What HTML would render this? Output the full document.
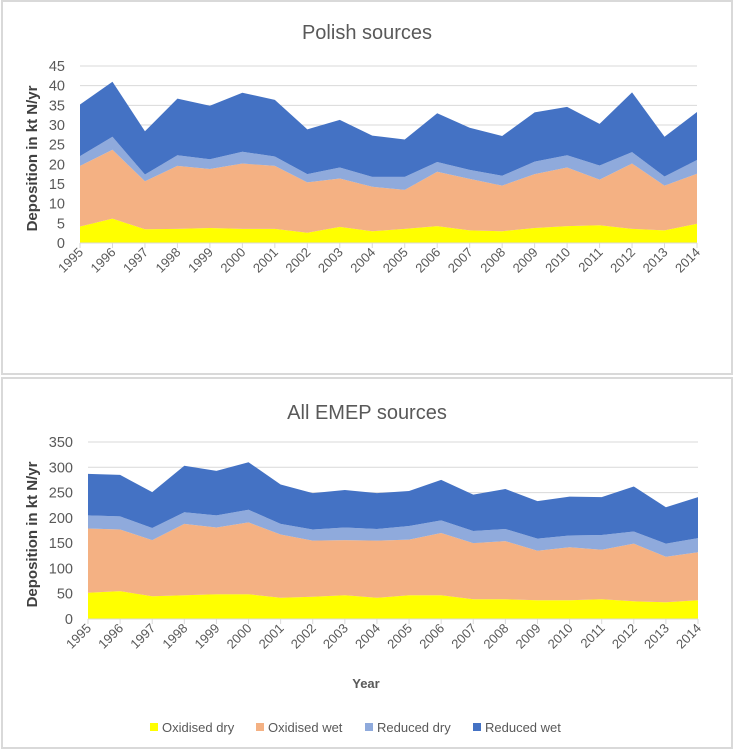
<!DOCTYPE html>
<html><head><meta charset="utf-8"><style>
body{margin:0;background:#fff;font-family:"Liberation Sans",sans-serif}
svg{display:block}
</style></head><body>
<svg id="s" width="734" height="755" xmlns="http://www.w3.org/2000/svg">
<rect x="2" y="1" width="730" height="373" fill="#fff" stroke="#d9d9d9" stroke-width="2"/>
<rect x="2" y="378" width="730" height="370" fill="#fff" stroke="#d9d9d9" stroke-width="2"/>
<text x="367" y="39" font-size="20" fill="#595959" text-anchor="middle">Polish sources</text>
<text x="367" y="419" font-size="20" fill="#595959" text-anchor="middle">All EMEP sources</text>
<text x="366" y="688" font-size="13" font-weight="bold" fill="#595959" text-anchor="middle">Year</text>
<g id="legend"></g>
</svg>
<script>
const years=[1995,1996,1997,1998,1999,2000,2001,2002,2003,2004,2005,2006,2007,2008,2009,2010,2011,2012,2013,2014];
const seriesNames=["Oxidised dry","Oxidised wet","Reduced dry","Reduced wet"];
// Polish sources (individual series values, kt N/yr)
const plOxDry=[4.2,6.2,3.5,3.6,3.8,3.6,3.6,2.6,4.1,3.0,3.6,4.3,3.2,3.0,3.8,4.3,4.5,3.6,3.2,4.9];
const plOxWet=[15.4,17.5,12.2,16.0,15.0,16.6,16.0,12.8,12.3,11.3,9.9,13.8,13.1,11.6,13.7,14.9,11.6,16.6,11.4,12.7];
const plRedDry=[2.5,3.3,1.7,2.7,2.5,3.0,2.4,2.1,2.8,2.5,3.3,2.5,2.3,2.5,3.2,3.1,3.6,2.9,2.3,3.5];
const plRedWet=[13.1,14.0,11.0,14.4,13.6,15.0,14.4,11.4,12.1,10.5,9.5,12.4,10.7,10.1,12.5,12.3,10.6,15.2,10.1,12.2];
const plTicks=[0,5,10,15,20,25,30,35,40,45];
// All EMEP sources
const emOxDry=[52,55,45,47,49,49,42,44,47,42,47,47,39,39,37,37,39,35,33,37];
const emOxWet=[127,122,111,141,132,142,125,111,109,113,110,123,111,115,98,105,98,114,90,95];
const emRedDry=[26,26,24,23,24,25,21,22,25,23,27,25,24,24,24,23,29,24,26,28];
const emRedWet=[82,82,71,92,88,94,78,72,74,71,69,80,72,79,74,77,75,89,72,81];
const emTicks=[0,50,100,150,200,250,300,350];
const colors=["#FFFF00","#F4B183","#8FAADC","#4472C4"];
const NS="http://www.w3.org/2000/svg";
const svg=document.getElementById('s');
function mk(tag,attrs,parent){const e=document.createElementNS(NS,tag);for(const k in attrs)e.setAttribute(k,attrs[k]);(parent||svg).appendChild(e);return e;}
function chart(series,ticks,x0,x1,y0,yTop,maxV,prefix){
  const g=mk('g',{});
  
  
  const xs=i=>x0+(x1-x0)*i/(years.length-1);
  const ys=v=>y0-(y0-yTop)*v/maxV;
  ticks.forEach(t=>{
    if(t>0){const l=mk('line',{x1:x0,x2:x1,y1:ys(t),y2:ys(t),stroke:'#d9d9d9','stroke-width':1},g);
    
    }
    const tx=mk('text',{x:x0-15,y:ys(t)+5,'font-size':14.5,fill:'#595959','text-anchor':'end'},g);
    tx.textContent=t;
    
    
  });
  let base=years.map(()=>0);
  series.forEach((s,k)=>{
    const top=base.map((b,i)=>b+s[i]);
    let d='M'+years.map((y,i)=>xs(i)+','+ys(top[i])).join('L');
    for(let i=years.length-1;i>=0;i--)d+='L'+xs(i)+','+ys(base[i]);
    const p=mk('path',{d:d+'Z',fill:colors[k]},g);
    
    
    base=top;
  });
  mk('line',{x1:x0,x2:x1,y1:y0,y2:y0,stroke:'#d9d9d9'},g);
  years.forEach((y,i)=>{
    mk('line',{x1:xs(i),x2:xs(i),y1:y0,y2:y0+5,stroke:'#d9d9d9'},g);
    const ax=xs(i)+4, ay=y0+10;
    const tx=mk('text',{x:ax,y:ay,'font-size':13,fill:'#595959','text-anchor':'end',transform:'rotate(-45 '+ax+' '+ay+')'},g);
    tx.textContent=y;
    
    
  });
  const cy=(y0+yTop)/2+4;
  const at=mk('text',{x:37,y:cy,'font-size':15,'font-weight':'bold',fill:'#404040','text-anchor':'middle',transform:'rotate(-90 37 '+cy+')'},g);
  at.textContent='Deposition in kt N/yr';
  
  
}
chart([plOxDry,plOxWet,plRedDry,plRedWet],plTicks,80,697,243,66,45,'polish');
chart([emOxDry,emOxWet,emRedDry,emRedWet],emTicks,88,698,619,442,350,'emep');
const lg=document.getElementById('legend');
const lx=[150,256,365,473];
seriesNames.forEach((n,k)=>{
  const r=mk('rect',{x:lx[k],y:723,width:8,height:8,fill:colors[k]},lg);
  
  
  const t=mk('text',{x:lx[k]+12,y:732,'font-size':13,fill:'#595959'},lg);
  t.textContent=n;
  
  
});
</script>
</body></html>
